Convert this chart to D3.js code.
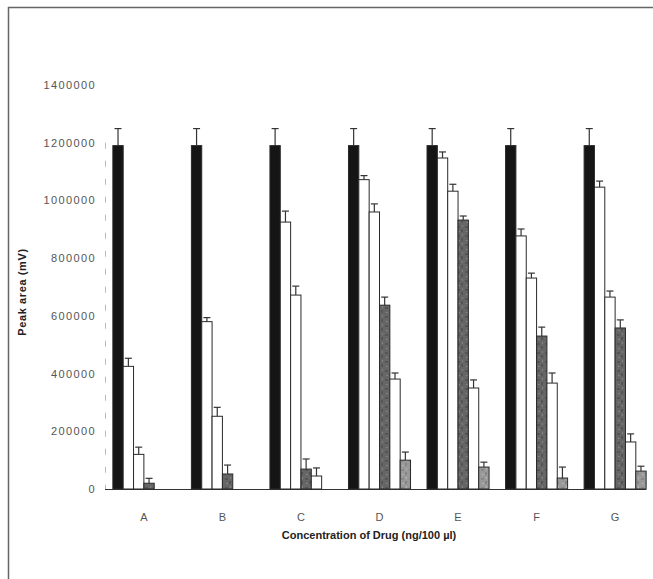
<!DOCTYPE html>
<html>
<head>
<meta charset="utf-8">
<script src="https://cdn.jsdelivr.net/npm/d3@7"></script>
<style>
  body { margin: 0; background: #fff; }
  svg { display: block; }
</style>
</head>
<body>
<svg id="chart"></svg>
<script>
var categories = ["A", "B", "C", "D", "E", "F", "G"];
var yTicks = [0, 200000, 400000, 600000, 800000, 1000000, 1200000, 1400000];

// six series per group, mean and upper error
var s1 = [1190000, 1190000, 1190000, 1190000, 1190000, 1190000, 1190000];
var s1err = [59000, 59000, 59000, 59000, 59000, 59000, 59000];
var s2 = [425000, 580000, 925000, 1072000, 1147000, 877000, 1046000];
var s2err = [28000, 14000, 38000, 14000, 21000, 24000, 21000];
var s3 = [120000, 252000, 672000, 960000, 1032000, 731000, 665000];
var s3err = [25000, 31000, 31000, 28000, 24000, 17000, 21000];
var s4 = [20000, 52000, 69000, 637000, 932000, 530000, 558000];
var s4err = [17000, 31000, 35000, 28000, 14000, 31000, 28000];
var s5 = [0, 0, 45000, 381000, 350000, 367000, 163000];
var s5err = [0, 0, 28000, 21000, 28000, 35000, 28000];
var s6 = [0, 0, 0, 100000, 76000, 38000, 62000];
var s6err = [0, 0, 0, 28000, 17000, 38000, 17000];

var seriesVals = [s1, s2, s3, s4, s5, s6];
var seriesErr = [s1err, s2err, s3err, s4err, s5err, s6err];
var seriesFill = ["#151515", "#ffffff", "#ffffff", "url(#tex4)", "#ffffff", "url(#tex6)"];

var width = 653, height = 579;
var svg = d3.select("#chart").attr("width", width).attr("height", height);

// mottled textures for the grey bars
var defs = svg.append("defs");
function texture(id, base, dark, light) {
  var p = defs.append("pattern").attr("id", id)
    .attr("width", 8).attr("height", 9).attr("patternUnits", "userSpaceOnUse");
  p.append("rect").attr("width", 8).attr("height", 9).attr("fill", base);
  p.append("rect").attr("x", 1).attr("y", 1).attr("width", 3).attr("height", 2).attr("fill", dark);
  p.append("rect").attr("x", 5).attr("y", 4).attr("width", 2).attr("height", 3).attr("fill", dark);
  p.append("rect").attr("x", 2).attr("y", 6).attr("width", 2).attr("height", 1).attr("fill", light);
  p.append("rect").attr("x", 6).attr("y", 0).attr("width", 1).attr("height", 2).attr("fill", light);
}
texture("tex4", "#666", "#555", "#828282");
texture("tex6", "#999", "#878787", "#b4b4b4");

// outer frame (only top and left edges visible)
svg.append("path")
  .attr("d", "M8.5," + height + "V7.5H" + width)
  .attr("fill", "none").attr("stroke", "#666").attr("stroke-width", 1.5);

var x0 = 105, x1 = 654, yBase = 489, yTop = 85;

var xscale = d3.scaleBand().domain(categories).range([x0, x1])
  .paddingInner(0.21).paddingOuter(0.1);
var inner = d3.scaleBand().domain(d3.range(6)).range([0, xscale.bandwidth()]);
var yscale = d3.scaleLinear().domain([0, 1400000]).range([yBase, yTop]);

// y axis
var yaxis = d3.axisLeft(yscale).tickValues(yTicks).tickSize(0).tickPadding(9)
  .tickFormat(d3.format("d"));
var gy = svg.append("g").attr("transform", "translate(" + x0 + ",0)").call(yaxis);
gy.select(".domain").remove();
gy.selectAll("text")
  .style("font-family", "'Liberation Sans', Arial, sans-serif")
  .style("font-size", "11px")
  .style("letter-spacing", "1.4px")
  .attr("fill", "#555");
svg.append("line")
  .attr("x1", x0 + 0.5).attr("x2", x0 + 0.5)
  .attr("y1", yscale(1200000)).attr("y2", yBase)
  .attr("stroke", "#bbb").attr("stroke-dasharray", "6,12");

// x axis baseline
svg.append("line")
  .attr("x1", x0).attr("x2", xscale("G") + xscale.bandwidth())
  .attr("y1", yBase + 0.5).attr("y2", yBase + 0.5)
  .attr("stroke", "#333").attr("stroke-width", 1.2);

var xaxis = d3.axisBottom(xscale).tickSize(0).tickPadding(24);
var gx = svg.append("g").attr("transform", "translate(0," + yBase + ")").call(xaxis);
gx.select(".domain").remove();
gx.selectAll("text")
  .style("font-family", "'Liberation Sans', Arial, sans-serif")
  .style("font-size", "11px")
  .attr("fill", "#555");

// bars
var rows = [];
categories.forEach(function (c, i) {
  for (var k = 0; k < 6; k++) {
    rows.push({ cat: c, k: k, v: seriesVals[k][i], e: seriesErr[k][i] });
  }
});
rows = rows.filter(function (d) { return d.v > 0; });

var bars = svg.append("g");
bars.selectAll("rect")
  .data(rows)
  .enter()
  .append("rect")
  .attr("x", function (d) { return xscale(d.cat) + inner(d.k); })
  .attr("y", function (d) { return yscale(d.v); })
  .attr("width", inner.bandwidth())
  .attr("height", function (d) { return yBase - yscale(d.v); })
  .attr("fill", function (d) { return seriesFill[d.k]; })
  .attr("stroke", "#2a2a2a")
  .attr("stroke-width", 1);

// error bars (upper only)
var eb = svg.append("g").attr("stroke", "#333").attr("stroke-width", 1.2);
rows.forEach(function (d) {
  var cx = xscale(d.cat) + inner(d.k) + inner.bandwidth() / 2;
  var yt = yscale(d.v + d.e);
  eb.append("line").attr("x1", cx).attr("x2", cx)
    .attr("y1", yscale(d.v)).attr("y2", yt);
  eb.append("line").attr("x1", cx - 3.5).attr("x2", cx + 3.5)
    .attr("y1", yt).attr("y2", yt);
});

// axis titles
svg.append("text")
  .attr("text-anchor", "middle")
  .attr("transform", "translate(26," + 292 + ")rotate(-90)")
  .style("font-family", "'Liberation Sans', Arial, sans-serif")
  .style("font-size", "11px")
  .style("font-weight", "bold")
  .style("letter-spacing", "0.6px")
  .attr("fill", "#222")
  .text("Peak area (mV)");

svg.append("text")
  .attr("text-anchor", "middle")
  .attr("x", 369).attr("y", 539)
  .style("font-family", "'Liberation Sans', Arial, sans-serif")
  .style("font-size", "11px")
  .style("font-weight", "bold")
  .attr("fill", "#222")
  .text("Concentration of Drug (ng/100 \u00b5l)");
</script>
</body>
</html>
